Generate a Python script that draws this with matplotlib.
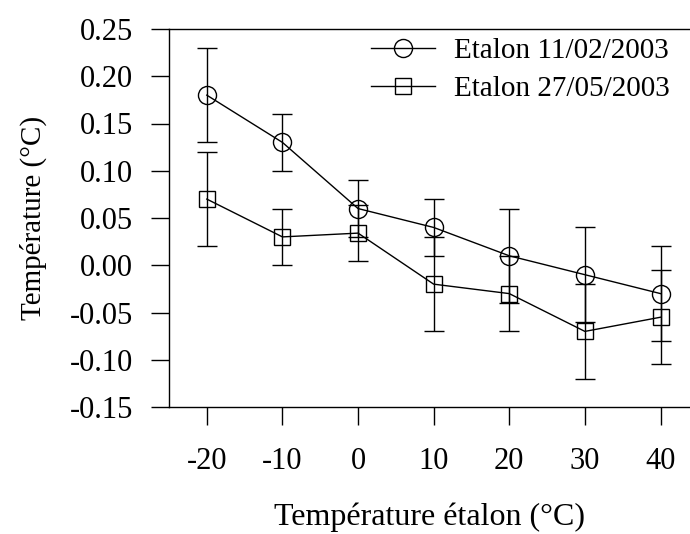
import matplotlib
matplotlib.use("Agg")
import matplotlib.pyplot as plt
from matplotlib.ticker import FormatStrFormatter

x = [-20, -10, 0, 10, 20, 30, 40]
s1_label = "Etalon 11/02/2003"
s1_y = [0.18, 0.13, 0.06, 0.04, 0.01, -0.01, -0.03]
s1_err = [0.05, 0.03, 0.03, 0.03, 0.05, 0.05, 0.05]
s2_label = "Etalon 27/05/2003"
s2_y = [0.07, 0.03, 0.034, -0.02, -0.03, -0.07, -0.055]
s2_err = [0.05, 0.03, 0.03, 0.05, 0.04, 0.05, 0.05]
xticks = [-20, -10, 0, 10, 20, 30, 40]
yticks = [-0.15, -0.10, -0.05, 0.00, 0.05, 0.10, 0.15, 0.20, 0.25]

plt.rcParams['font.family'] = ['Liberation Serif', 'DejaVu Serif']
plt.rcParams['axes.unicode_minus'] = False

fig = plt.figure(figsize=(6.9, 5.34), dpi=100)
ax = fig.add_axes([169/690, (534-407)/534, (690-169)/690, (407-29)/534])

lw = 1.0
for y, e, mk, ms, lab in [(s1_y, s1_err, 'o', 13, s1_label), (s2_y, s2_err, 's', 11, s2_label)]:
    ax.errorbar(x, y, yerr=e, fmt='none', ecolor='black', elinewidth=lw,
                capsize=7.2, capthick=lw, zorder=2)
    ax.plot(x, y, color='black', lw=lw, marker=mk, ms=ms, mfc='none',
            mec='black', mew=lw, label=lab, zorder=3)

ax.set_xlim(-25, 43.9)
ax.set_ylim(-0.15, 0.25)
ax.set_xticks(xticks)
ax.set_yticks(yticks)
ax.yaxis.set_major_formatter(FormatStrFormatter('%.2f'))
ax.tick_params(direction='out', length=13, width=lw, labelsize=22, colors='black')
ax.tick_params(axis='y', pad=13)
ax.tick_params(axis='x', pad=16)
for sp in ['left', 'bottom', 'top']:
    ax.spines[sp].set_linewidth(lw)
ax.spines['right'].set_visible(False)

ax.set_xlabel("Température étalon (°C)", fontsize=23, labelpad=19)
ax.set_ylabel("Température (°C)", fontsize=21, labelpad=16)

ax.legend(loc='upper right', bbox_to_anchor=(0.983, 1.008), frameon=False, fontsize=21,
          handlelength=2.2, handletextpad=0.65, labelspacing=0.4, borderaxespad=0.0)

fig.savefig("out.png", dpi=100)
